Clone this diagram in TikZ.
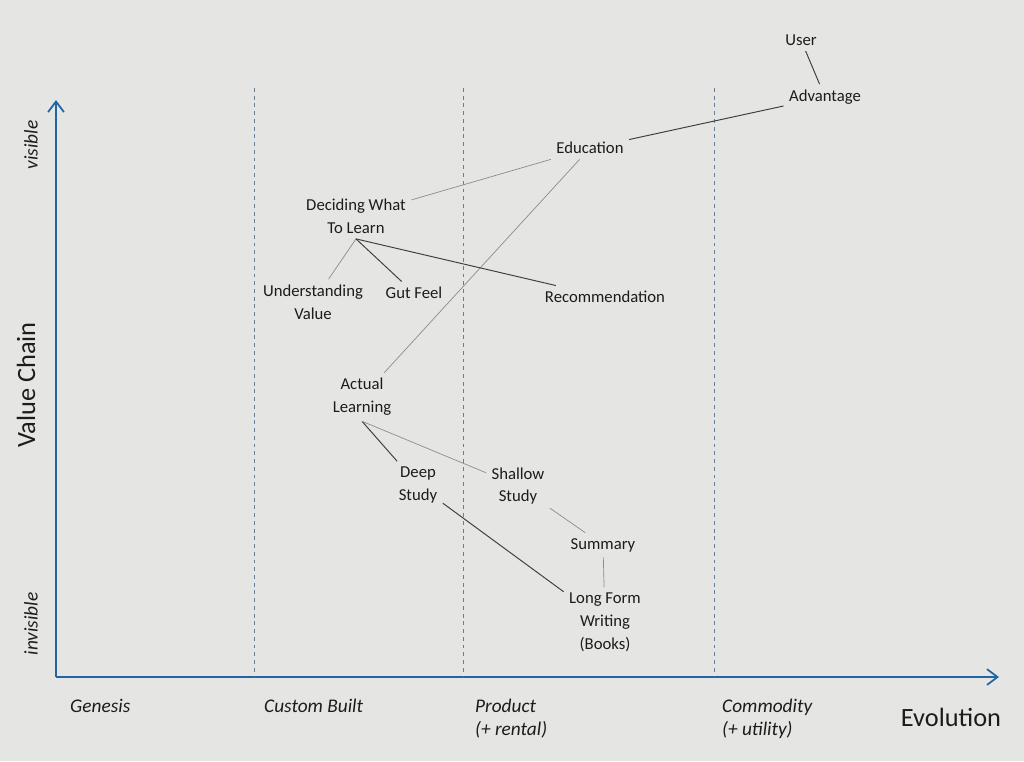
\documentclass[tikz,border=0pt]{standalone}
\usepackage{fontspec}
\setmainfont{Carlito}
\usetikzlibrary{arrows.meta}
\definecolor{paper}{RGB}{229,229,227}
\definecolor{axisblue}{RGB}{32,102,165}
\definecolor{stageblue}{RGB}{100,128,152}
\definecolor{ink}{RGB}{28,28,28}
\definecolor{pencil}{RGB}{140,140,140}
\tikzset{
  comp/.style={align=center, text=ink, font=\fontsize{9.5}{13}\selectfont, inner sep=3pt},
  dark/.style={draw=ink!85, line width=0.55pt},
  faint/.style={draw=pencil, line width=0.4pt},
  axisline/.style={draw=axisblue, line width=1pt, -{Straight Barb[length=6pt,width=9pt]}},
  stageline/.style={draw=stageblue, line width=0.5pt, dash pattern=on 2.2pt off 2.2pt},
  stagelabel/.style={anchor=north west, align=left, text=ink, font=\itshape\fontsize{11}{13}\selectfont},
  axislabel/.style={text=ink, font=\fontsize{15}{18}\selectfont},
}
\begin{document}
\begin{tikzpicture}[x=0.02cm, y=-0.02cm]
	% Paper and frame:
	\fill[paper] (0,0) rectangle (1024,761);
	\useasboundingbox (0,0) rectangle (1024,761);
	\coordinate (origin) at (56,677);
	\coordinate (vtop) at (56,100);
	\coordinate (hend) at (999,677);
	\draw[axisline] (origin) -- (vtop);
	\draw[axisline] (origin) -- (hend);
	\foreach \sx in {254,463,714}
		\draw[stageline] (\sx,88) -- (\sx,676);
	% Axis texts:
	\node[axislabel, rotate=90] (valuechain) at (26,385) {Value Chain};
	\node[stagelabel, anchor=center, rotate=90] (visible) at (31,145) {visible};
	\node[stagelabel, anchor=center, rotate=90] (invisible) at (31,624) {invisible};
	\node[axislabel] (evolution) at (951,717) {Evolution};
	\node[stagelabel] (genesis) at (64,693) {Genesis};
	\node[stagelabel] (custom) at (258,693) {Custom Built};
	\node[stagelabel] (product) at (469,693) {Product\\(+ rental)};
	\node[stagelabel] (commodity) at (716,693) {Commodity\\(+ utility)};
	% Components:
	\node[comp] (user) at (801,40) {User};
	\node[comp] (advantage) at (825,97) {Advantage};
	\node[comp] (education) at (590,148) {Education};
	\node[comp] (deciding) at (356,216) {Deciding What\\To Learn};
	\node[comp] (understanding) at (313,302) {Understanding\\Value};
	\node[comp] (gutfeel) at (414,293) {Gut Feel};
	\node[comp] (recommendation) at (605,297) {Recommendation};
	\node[comp] (actual) at (362,397) {Actual\\Learning};
	\node[comp] (deep) at (418,485) {Deep\\Study};
	\node[comp] (shallow) at (518,486) {Shallow\\Study};
	\node[comp] (summary) at (603,545) {Summary};
	\node[comp] (longform) at (605,622) {Long Form\\Writing\\(Books)};
	% Links:
	\draw[dark] (user) -- (advantage);
	\draw[dark] (advantage) -- (education);
	\draw[faint] (education) -- (deciding);
	\draw[faint] (education) -- (actual);
	\draw[faint] (deciding.south) -- (understanding);
	\draw[dark] (deciding.south) -- (gutfeel);
	\draw[dark] (deciding.south) -- (recommendation);
	\draw[dark] (actual.south) -- (deep);
	\draw[faint] (actual.south) -- (shallow);
	\draw[faint] (shallow) -- (summary);
	\draw[faint] (summary) -- (longform);
	\draw[dark] (deep) -- (longform);
\end{tikzpicture}
\end{document}
